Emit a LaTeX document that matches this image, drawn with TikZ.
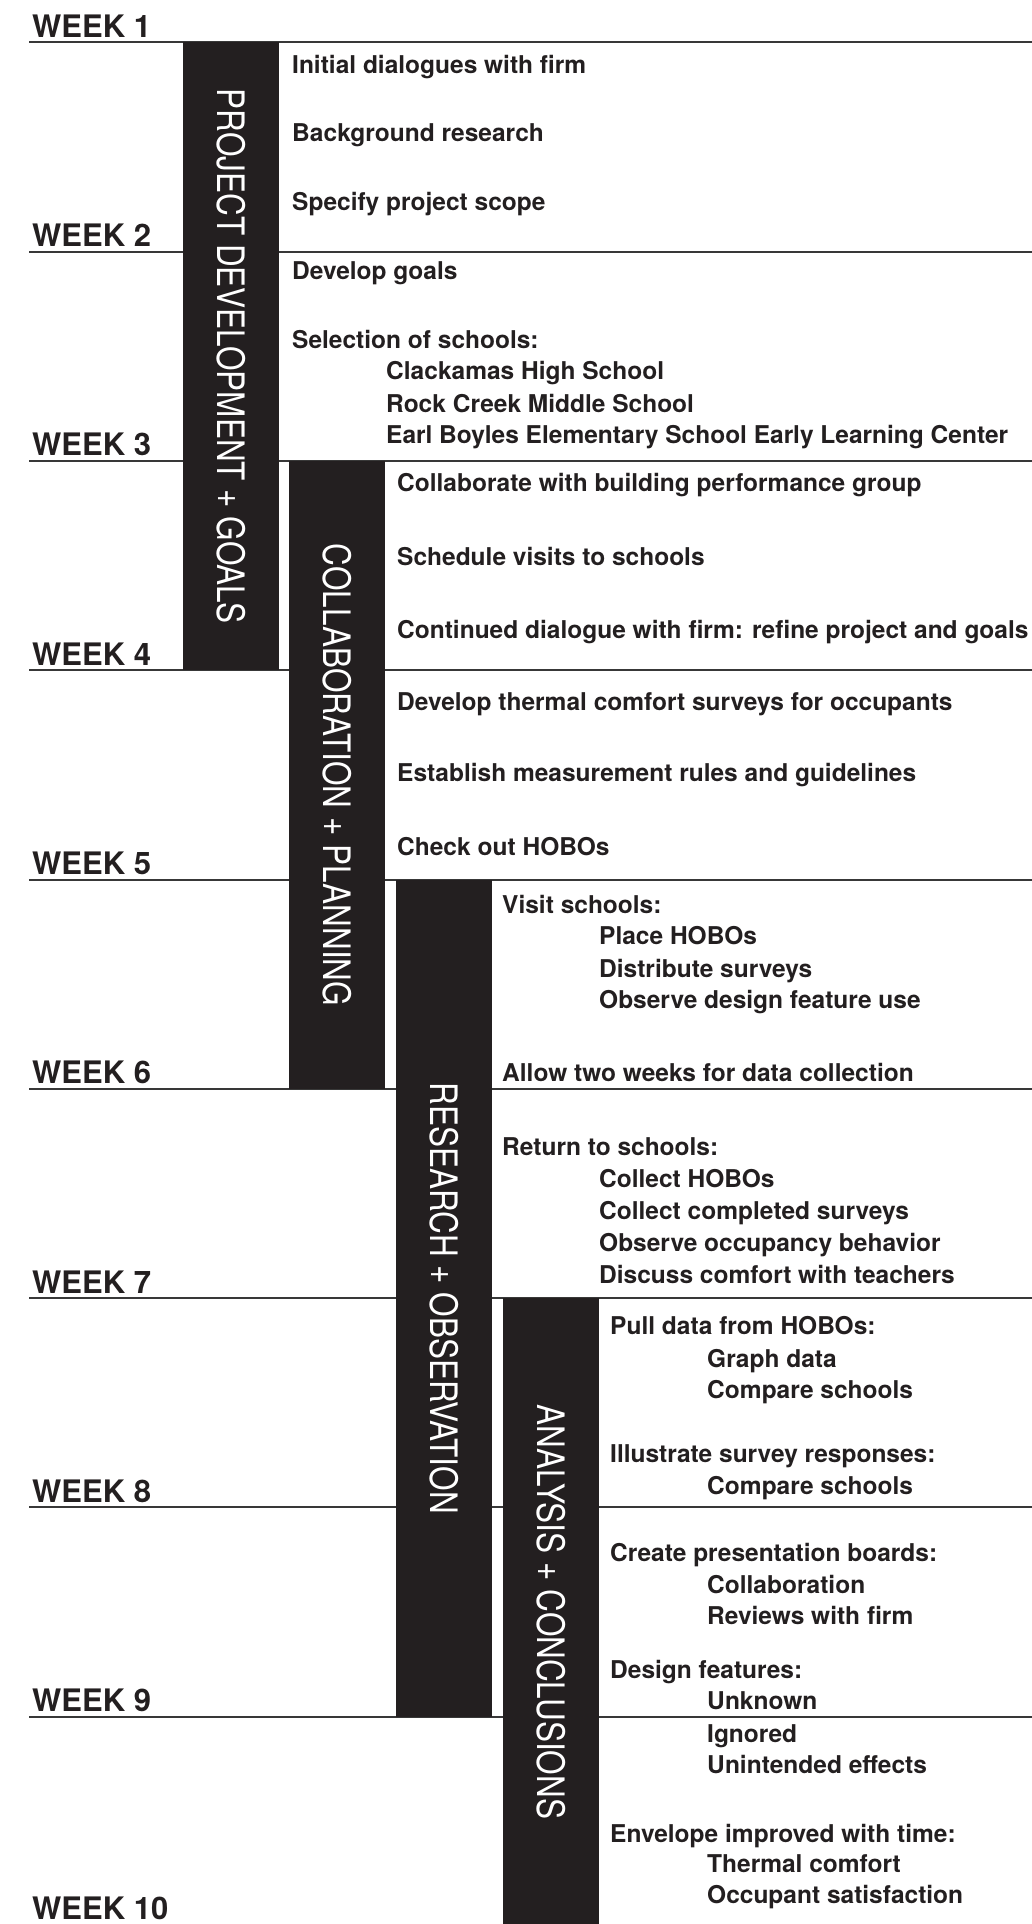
\documentclass[tikz,border=0pt]{standalone}
\usepackage{graphicx}
\usepackage{fontspec}
\setmainfont{TeX Gyre Heros}
\definecolor{barblack}{HTML}{231F20}
\tikzset{
  weekline/.style={draw=black!78, line width=2pt},
  weeklabel/.style={anchor=base west, inner sep=0pt, text=barblack,
    font=\fontsize{31}{31}\selectfont\bfseries},
  task/.style={anchor=base west, inner sep=0pt, text=barblack,
    font=\fontsize{24.5}{24.5}\selectfont\bfseries},
  phase/.style={fill=barblack, text=white, rotate=-90, inner sep=0pt,
    minimum height=96pt, font=\fontsize{31.5}{31.5}\selectfont},
}
% taller capitals for the phase bars
\newcommand{\tallcaps}[1]{\scalebox{1}[1.2]{#1}}

\begin{document}
\begin{tikzpicture}[x=1pt, y=-1pt]
  \useasboundingbox (0,0) rectangle (1032,1924);
  % week rules and labels
  \foreach \k in {1,...,9} {
    \pgfmathsetmacro\wy{42.3+(\k-1)*209.3}
    \coordinate (l\k) at (29,\wy);
    \coordinate (r\k) at (1032,\wy);
    \draw[weekline] (l\k) -- (r\k);
    \node[weeklabel] (w\k) at (32,\wy-5) {WEEK \k};
  }
  \node[weeklabel] (w10) at (32,1919) {WEEK 10};

  % phase bars
  \node[phase, minimum width=628pt] (pd) at (231,356.3) {\tallcaps{PROJECT DEVELOPMENT + GOALS}};
  \node[phase, minimum width=628pt] (cp) at (337,774.9) {\tallcaps{COLLABORATION + PLANNING}};
  \node[phase, minimum width=837pt] (ro) at (444,1298.1) {\tallcaps{RESEARCH + OBSERVATION}};
  \node[phase, minimum width=628pt] (ac) at (551,1612) {\tallcaps{ANALYSIS + CONCLUSIONS}};

  % project development + goals
  \node[task] (t1) at (292,74) {Initial dialogues with firm};
  \node[task] (t2) at (292,142) {Background research};
  \node[task] (t3) at (292,210) {Specify project scope};
  \node[task] (t4) at (292,279) {Develop goals};
  \node[task] (t5) at (292,348) {Selection of schools:};
  \node[task] (t5a) at (386,379) {Clackamas High School};
  \node[task] (t5b) at (386,412) {Rock Creek Middle School};
  \node[task] (t5c) at (386,443) {Earl Boyles Elementary School Early Learning Center};

  % collaboration + planning
  \node[task] (t6) at (397,491) {Collaborate with building performance group};
  \node[task] (t7) at (397,565) {Schedule visits to schools};
  \node[task] (t8) at (397,638) {Continued dialogue with firm: refine project and goals};
  \node[task] (t9) at (397,710) {Develop thermal comfort surveys for occupants};
  \node[task] (t10) at (397,781) {Establish measurement rules and guidelines};
  \node[task] (t11) at (397,855) {Check out HOBOs};

  % research + observation
  \node[task] (t12) at (502,913) {Visit schools:};
  \node[task] (t12a) at (599,944) {Place HOBOs};
  \node[task] (t12b) at (599,977) {Distribute surveys};
  \node[task] (t12c) at (599,1008) {Observe design feature use};
  \node[task] (t13) at (502,1081) {Allow two weeks for data collection};
  \node[task] (t14) at (502,1155) {Return to schools:};
  \node[task] (t14a) at (599,1187) {Collect HOBOs};
  \node[task] (t14b) at (599,1219) {Collect completed surveys};
  \node[task] (t14c) at (599,1251) {Observe occupancy behavior};
  \node[task] (t14d) at (599,1283) {Discuss comfort with teachers};

  % analysis + conclusions
  \node[task] (t15) at (610,1334) {Pull data from HOBOs:};
  \node[task] (t15a) at (707,1367) {Graph data};
  \node[task] (t15b) at (707,1398) {Compare schools};
  \node[task] (t16) at (610,1462) {Illustrate survey responses:};
  \node[task] (t16a) at (707,1494) {Compare schools};
  \node[task] (t17) at (610,1561) {Create presentation boards:};
  \node[task] (t17a) at (707,1593) {Collaboration};
  \node[task] (t17b) at (707,1624) {Reviews with firm};
  \node[task] (t18) at (610,1678) {Design features:};
  \node[task] (t18a) at (707,1709) {Unknown};
  \node[task] (t18b) at (707,1742) {Ignored};
  \node[task] (t18c) at (707,1773) {Unintended effects};
  \node[task] (t19) at (610,1842) {Envelope improved with time:};
  \node[task] (t19a) at (707,1872) {Thermal comfort};
  \node[task] (t19b) at (707,1903) {Occupant satisfaction};
\end{tikzpicture}
\end{document}
